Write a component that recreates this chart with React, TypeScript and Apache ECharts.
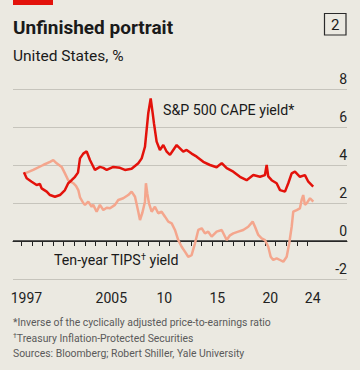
import React, { useEffect, useRef } from "react";
import * as echarts from "echarts";

const capeYears = [
  1997.26, 1997.52, 1997.99, 1998.46, 1998.77, 1998.93, 1999.41, 1999.72, 2000.19, 2000.66,
  2001.13, 2001.44, 2001.76, 2002.08, 2002.36, 2002.55, 2002.86, 2003.18, 2003.49, 2003.96,
  2004.43, 2004.75, 2005.07, 2005.69, 2006.32, 2006.79, 2007.42, 2008.05, 2008.37, 2008.68,
  2008.99, 2009.22, 2009.41, 2009.53, 2009.78, 2010.09, 2010.41, 2010.73, 2011.04, 2011.35,
  2011.67, 2011.98, 2012.29, 2012.61, 2013.08, 2013.56, 2014.18, 2014.81, 2015.44, 2015.92,
  2016.39, 2017.01, 2017.64, 2018.27, 2018.9, 2019.53, 2020.0, 2020.16, 2020.31, 2020.63,
  2021.1, 2021.42, 2021.89, 2022.2, 2022.52, 2022.83, 2023.3, 2023.77, 2024.09, 2024.55,
];
const capeValues = [
  3.62, 3.3, 3.12, 2.95, 3.0, 2.77, 2.6, 2.42, 2.33, 2.42,
  2.68, 3.04, 3.2, 3.38, 3.6, 4.35, 4.6, 4.72, 4.26, 3.74,
  3.9, 3.85, 3.74, 3.9, 3.85, 3.74, 3.8, 4.09, 4.35, 4.96,
  6.72, 7.5, 6.72, 6.19, 5.23, 4.79, 5.05, 4.7, 4.53, 4.79,
  5.05, 4.88, 4.7, 4.79, 4.6, 4.44, 4.17, 4.0, 3.88, 4.1,
  3.83, 3.65, 3.38, 3.2, 3.47, 3.38, 3.47, 4.0, 3.4, 3.2,
  3.04, 2.68, 2.6, 3.04, 3.56, 3.65, 3.38, 3.47, 3.12, 2.86,
];

const tipsYears = [
  1997.36, 1998.14, 1999.08, 1999.72, 2000.03, 2000.35, 2000.82, 2001.13, 2001.44, 2001.92,
  2002.17, 2002.39, 2002.55, 2002.86, 2003.02, 2003.33, 2003.65, 2003.8, 2004.12, 2004.43,
  2004.75, 2005.07, 2005.38, 2005.85, 2006.16, 2006.63, 2007.1, 2007.42, 2007.74, 2008.05,
  2008.21, 2008.44, 2008.68, 2008.77, 2008.9, 2009.06, 2009.31, 2009.62, 2009.93, 2010.25,
  2010.57, 2010.88, 2011.2, 2011.51, 2011.82, 2012.14, 2012.45, 2012.76, 2013.08, 2013.4,
  2013.71, 2014.03, 2014.34, 2014.65, 2014.97, 2015.44, 2015.92, 2016.39, 2016.7, 2017.01,
  2017.48, 2017.95, 2018.42, 2018.84, 2019.06, 2019.37, 2019.69, 2020.0, 2020.31, 2020.54,
  2020.78, 2021.1, 2021.42, 2021.73, 2022.05, 2022.29, 2022.52, 2022.67, 2022.99, 2023.3,
  2023.46, 2023.61, 2023.77, 2023.93, 2024.25, 2024.56,
];
const tipsValues = [
  3.56, 3.74, 4.0, 4.17, 4.26, 4.09, 3.9, 3.56, 3.2, 3.04,
  2.9, 2.68, 2.3, 2.0, 1.9, 2.07, 1.8, 1.9, 1.54, 1.9,
  1.63, 1.75, 1.72, 1.9, 2.16, 2.25, 2.42, 2.6, 2.33, 1.54,
  1.1, 1.5, 2.07, 3.04, 2.5, 1.98, 1.54, 1.8, 1.46, 1.54,
  1.28, 1.02, 0.93, 0.58, 0.05, -0.3, -0.56, -0.83, -0.74, -0.12,
  0.58, 0.67, 0.4, 0.49, 0.23, 0.49, 0.58, 0.05, 0.3, 0.4,
  0.49, 0.58, 0.75, 1.02, 0.75, 0.32, 0.14, 0.05, -0.3, -0.83,
  -1.0, -0.91, -1.0, -1.09, -0.83, -0.12, 0.75, 1.54, 1.63, 1.72,
  2.16, 2.42, 1.9, 1.98, 2.25, 2.07,
];

const tickYears = Array.from({ length: 28 }, (_, i) => 1997 + i);
const labelYears = [1997, 2005, 2010, 2015, 2020, 2024];
const labelTexts = ["1997", "2005", "10", "15", "20", "24"];
const xMin = 1996.23;
const xMax = 2027.74;

const BG = "#EBE9E1";
const RED = "#E3120B";
const SALMON = "#F4A68D";
const FONT = "Roboto, 'Noto Sans', sans-serif";

export default function App() {
  const ref = useRef<HTMLDivElement>(null);
  useEffect(() => {
    if (!ref.current) return;
    const chart = echarts.init(ref.current, null, { renderer: "svg" });
    const labelPos = labelYears.map((y) => y + 0.5);
    chart.setOption({
      animation: false,
      backgroundColor: BG,
      textStyle: { fontFamily: FONT },
      grid: { left: 13, right: 13, top: 89, bottom: 91, containLabel: false },
      xAxis: {
        type: "value",
        min: xMin,
        max: xMax,
        axisLine: { show: true, lineStyle: { color: "#222", width: 1 } },
        axisTick: {
          show: true,
          customValues: tickYears,
          length: 5,
          lineStyle: { color: "#222", width: 1 },
        },
        axisLabel: {
          customValues: labelPos,
          margin: 12,
          fontSize: 14,
          color: "#222",
          fontFamily: FONT,
          formatter: (v: number) => {
            const i = labelPos.findIndex((p) => Math.abs(p - v) < 0.01);
            return i >= 0 ? labelTexts[i] : "";
          },
        },
        splitLine: { show: false },
      },
      yAxis: {
        type: "value",
        position: "right",
        min: -2,
        max: 8,
        interval: 2,
        axisLine: { show: false },
        axisTick: { show: false },
        axisLabel: {
          inside: true,
          margin: 0,
          verticalAlign: "bottom",
          padding: [0, 0, 3, 0],
          fontSize: 14,
          color: "#222",
          fontFamily: FONT,
        },
        splitLine: { show: true, lineStyle: { color: "#C6C4BC", width: 1 } },
      },
      series: [
        {
          type: "line",
          silent: true,
          symbol: "none",
          z: 1,
          data: [
            [xMin, 0],
            [xMax, 0],
          ],
          lineStyle: { color: "#2a2a2a", width: 1.3 },
        },
        {
          type: "line",
          name: "TIPS",
          symbol: "none",
          z: 2,
          data: tipsYears.map((y, i) => [y, tipsValues[i]]),
          lineStyle: { color: SALMON, width: 2.5 },
        },
        {
          type: "line",
          name: "CAPE",
          symbol: "none",
          z: 3,
          data: capeYears.map((y, i) => [y, capeValues[i]]),
          lineStyle: { color: RED, width: 2.5 },
        },
      ],
      graphic: [
        { type: "rect", left: 13, top: 0, shape: { width: 40, height: 5 }, style: { fill: RED } },
        {
          type: "text",
          x: 13,
          y: 27,
          style: {
            text: "Unfinished portrait",
            fontFamily: FONT,
            fontWeight: "bold",
            fontSize: 19,
            fill: "#1a1a1a",
            verticalAlign: "middle",
          },
        },
        {
          type: "text",
          x: 13,
          y: 56,
          style: {
            text: "United States, %",
            fontFamily: FONT,
            fontSize: 15.5,
            fill: "#1a1a1a",
            verticalAlign: "middle",
          },
        },
        {
          type: "rect",
          shape: { x: 324.5, y: 13.5, width: 21.5, height: 21.5 },
          style: { fill: "none", stroke: "#2a2a2a", lineWidth: 1.2 },
        },
        {
          type: "text",
          x: 335.3,
          y: 24.5,
          style: {
            text: "2",
            fontFamily: FONT,
            fontSize: 15,
            fill: "#1a1a1a",
            align: "center",
            verticalAlign: "middle",
          },
        },
        {
          type: "text",
          x: 163,
          y: 110,
          style: {
            text: "S&P 500 CAPE yield*",
            fontFamily: FONT,
            fontSize: 14.2,
            fill: "#1a1a1a",
            verticalAlign: "middle",
          },
        },
        {
          type: "text",
          x: 54,
          y: 260,
          style: {
            text: "Ten-year TIPS{sup|†} yield",
            fontFamily: FONT,
            fontSize: 14.2,
            fill: "#1a1a1a",
            verticalAlign: "middle",
            rich: {
              sup: {
                fontFamily: FONT,
                fontSize: 9,
                fill: "#1a1a1a",
                verticalAlign: "top",
                padding: [0, 0, 7, 0],
              },
            },
          },
        },
        {
          type: "text",
          x: 13,
          y: 322,
          style: {
            text: "*Inverse of the cyclically adjusted price-to-earnings ratio",
            fontFamily: FONT,
            fontSize: 10.4,
            fill: "#5a5a5a",
            verticalAlign: "middle",
          },
        },
        {
          type: "text",
          x: 13,
          y: 338,
          style: {
            text: "{sup|†}Treasury Inflation-Protected Securities",
            fontFamily: FONT,
            fontSize: 10.4,
            fill: "#5a5a5a",
            verticalAlign: "middle",
            rich: {
              sup: { fontFamily: FONT, fontSize: 7, fill: "#5a5a5a", padding: [0, 0, 5, 0] },
            },
          },
        },
        {
          type: "text",
          x: 13,
          y: 353.5,
          style: {
            text: "Sources: Bloomberg; Robert Shiller, Yale University",
            fontFamily: FONT,
            fontSize: 10.4,
            fill: "#5a5a5a",
            verticalAlign: "middle",
          },
        },
      ],
    });
    return () => chart.dispose();
  }, []);
  return (
    <div
      ref={ref}
      style={{ position: "fixed", left: 0, top: 0, width: 360, height: 370, background: BG }}
    />
  );
}
